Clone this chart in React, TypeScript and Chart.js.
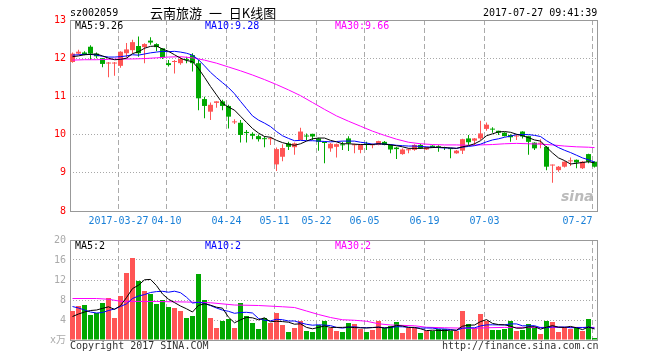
import React, { useEffect, useRef } from 'react';
import { Chart, registerables } from 'chart.js';

Chart.register(...registerables);

// ---------- data ----------
const tickIndex = [8, 16, 26, 34, 41, 49, 59, 69, 87];
const tickLabels = ['2017-03-27', '04-10', '04-24', '05-11', '05-22', '06-05', '06-19', '07-03', '07-27'];

const openPrice = [
  11.90, 12.12, 12.15, 12.30, 12.12, 12.00, 11.86, 11.86, 11.80, 12.13,
  12.21, 12.32, 12.29, 12.46, 12.37, 12.26, 11.87, 11.90, 11.87, 11.97,
  12.08, 11.87, 10.93, 10.60, 10.83, 10.87, 10.75, 10.32, 10.31, 10.07,
  10.02, 9.96, 9.90, 9.88, 9.22, 9.42, 9.77, 9.67, 9.86, 9.97,
  10.02, 9.90, 9.80, 9.64, 9.68, 9.74, 9.90, 9.72, 9.60, 9.76,
  9.72, 9.73, 9.81, 9.73, 9.66, 9.49, 9.59, 9.60, 9.73, 9.61,
  9.71, 9.69, 9.67, 9.63, 9.51, 9.58, 9.90, 9.84, 9.90, 10.15,
  10.15, 10.10, 10.05, 9.99, 9.95, 10.08, 9.96, 9.79, 9.76, 9.68,
  9.19, 9.07, 9.16, 9.30, 9.34, 9.12, 9.49, 9.29,
];
const highPrice = [
  12.15, 12.22, 12.18, 12.34, 12.15, 12.00, 11.90, 11.90, 12.18, 12.40,
  12.48, 12.57, 12.39, 12.55, 12.39, 12.26, 11.95, 11.95, 12.04, 12.04,
  12.13, 11.95, 10.99, 10.84, 10.87, 10.91, 10.78, 10.40, 10.38, 10.12,
  10.06, 10.00, 9.96, 9.94, 9.66, 9.75, 9.81, 9.79, 10.18, 10.03,
  10.02, 9.92, 9.82, 9.78, 9.77, 9.81, 9.96, 9.76, 9.75, 9.81,
  9.77, 9.84, 9.83, 9.75, 9.68, 9.64, 9.64, 9.75, 9.76, 9.68,
  9.72, 9.72, 9.68, 9.64, 9.60, 9.89, 9.99, 9.91, 10.36, 10.32,
  10.19, 10.10, 10.06, 10.01, 10.00, 10.09, 9.97, 9.80, 9.88, 9.70,
  9.22, 9.18, 9.30, 9.40, 9.35, 9.31, 9.50, 9.30,
];
const lowPrice = [
  11.88, 12.10, 12.08, 11.95, 12.00, 11.76, 11.50, 11.54, 11.75, 12.02,
  12.13, 12.04, 11.87, 12.35, 12.18, 11.98, 11.78, 11.60, 11.83, 11.87,
  11.65, 10.64, 10.43, 10.38, 10.70, 10.64, 10.16, 10.28, 9.79, 9.79,
  9.88, 9.82, 9.67, 9.73, 9.05, 9.30, 9.60, 9.47, 9.86, 9.86,
  9.86, 9.58, 9.25, 9.55, 9.40, 9.60, 9.57, 9.51, 9.51, 9.60,
  9.64, 9.72, 9.72, 9.51, 9.36, 9.47, 9.51, 9.58, 9.62, 9.60,
  9.65, 9.55, 9.60, 9.38, 9.50, 9.49, 9.73, 9.73, 9.86, 10.10,
  10.05, 9.99, 9.95, 9.81, 9.86, 9.90, 9.47, 9.60, 9.64, 9.07,
  8.74, 9.03, 9.14, 9.18, 9.12, 9.10, 9.25, 9.14,
];
const closePrice = [
  12.12, 12.17, 12.11, 12.12, 12.05, 11.85, 11.88, 11.88, 12.17, 12.23,
  12.42, 12.13, 12.37, 12.41, 12.29, 12.02, 11.82, 11.91, 11.98, 11.95,
  11.87, 10.95, 10.75, 10.78, 10.87, 10.75, 10.47, 10.34, 9.99, 10.04,
  9.97, 9.88, 9.88, 9.90, 9.62, 9.65, 9.68, 9.77, 10.08, 9.95,
  9.95, 9.81, 9.78, 9.76, 9.75, 9.72, 9.77, 9.74, 9.73, 9.74,
  9.74, 9.83, 9.73, 9.61, 9.62, 9.61, 9.61, 9.73, 9.64, 9.67,
  9.66, 9.67, 9.65, 9.62, 9.58, 9.88, 9.80, 9.90, 10.03, 10.26,
  10.13, 10.05, 9.96, 9.93, 9.97, 9.95, 9.81, 9.64, 9.78, 9.16,
  9.21, 9.16, 9.29, 9.32, 9.27, 9.29, 9.29, 9.16,
];
const volume = [
  5.8, 6.8, 7.0, 5.0, 5.4, 7.4, 8.4, 4.4, 8.8, 13.4,
  16.4, 11.8, 9.8, 9.2, 7.2, 8.0, 6.6, 6.4, 5.8, 4.4,
  4.8, 13.2, 8.0, 4.4, 2.4, 3.8, 4.2, 2.4, 7.4, 4.8,
  3.4, 2.2, 4.4, 3.4, 5.4, 3.0, 1.6, 2.4, 3.8, 1.8,
  1.6, 3.0, 3.8, 2.4, 1.8, 1.6, 3.4, 3.2, 2.2, 1.6,
  2.0, 3.8, 2.4, 2.8, 3.6, 1.4, 2.4, 2.4, 1.4, 1.8,
  1.8, 2.2, 2.2, 1.8, 1.8, 5.8, 3.2, 2.4, 5.2, 3.8,
  2.0, 2.0, 2.2, 3.8, 1.8, 2.0, 3.2, 2.6, 1.2, 3.8,
  3.6, 1.6, 2.4, 2.2, 2.4, 1.8, 4.2, 0.4,
];
const ma5 = [
  12.04, 12.06, 12.09, 12.10, 12.11, 12.06, 12.00, 11.96, 11.97, 12.00,
  12.12, 12.17, 12.26, 12.31, 12.32, 12.24, 12.18, 12.09, 12.00, 11.94,
  11.91, 11.73, 11.50, 11.26, 11.04, 10.82, 10.72, 10.64, 10.48, 10.32,
  10.16, 10.04, 9.95, 9.93, 9.85, 9.79, 9.75, 9.72, 9.76, 9.83,
  9.89, 9.91, 9.91, 9.85, 9.81, 9.76, 9.76, 9.75, 9.74, 9.74,
  9.74, 9.76, 9.75, 9.73, 9.71, 9.68, 9.64, 9.64, 9.64, 9.65,
  9.66, 9.67, 9.66, 9.65, 9.64, 9.68, 9.71, 9.76, 9.84, 9.97,
  10.02, 10.07, 10.08, 10.06, 10.01, 9.97, 9.92, 9.86, 9.83, 9.67,
  9.52, 9.39, 9.32, 9.23, 9.25, 9.27, 9.29, 9.26,
];
const ma10 = [
  12.08, 12.09, 12.10, 12.10, 12.08, 12.05, 12.03, 12.03, 12.04, 12.06,
  12.09, 12.08, 12.11, 12.14, 12.16, 12.18, 12.17, 12.18, 12.16, 12.13,
  12.08, 11.96, 11.80, 11.63, 11.49, 11.36, 11.23, 11.07, 10.87, 10.68,
  10.49, 10.38, 10.30, 10.21, 10.08, 9.97, 9.90, 9.84, 9.85, 9.84,
  9.84, 9.83, 9.82, 9.81, 9.82, 9.83, 9.83, 9.83, 9.80, 9.78,
  9.75, 9.76, 9.75, 9.74, 9.72, 9.71, 9.70, 9.70, 9.69, 9.68,
  9.67, 9.66, 9.65, 9.65, 9.64, 9.67, 9.69, 9.71, 9.75, 9.81,
  9.86, 9.89, 9.93, 9.96, 10.00, 10.00, 10.00, 9.98, 9.95, 9.84,
  9.75, 9.66, 9.59, 9.53, 9.46, 9.39, 9.34, 9.28,
];
const ma30Index = [0, 2, 4, 6, 8, 10, 12, 14, 16, 18, 20, 22, 24, 26, 28, 30, 32, 34, 36, 38, 40, 42, 44, 46, 48, 50, 52, 54, 56, 58, 60, 62, 64, 66, 68, 70, 72, 74, 76, 78, 80, 82, 84, 86, 87];
const ma30 = [
  11.95, 11.96, 11.96, 11.97, 11.98, 11.98, 11.99, 12.01, 12.03, 12.04,
  12.01, 11.95, 11.87, 11.77, 11.67, 11.56, 11.44, 11.31, 11.17, 11.02,
  10.84, 10.66, 10.49, 10.35, 10.22, 10.09, 9.98, 9.88, 9.80, 9.76,
  9.74, 9.73, 9.73, 9.72, 9.73, 9.74, 9.76, 9.77, 9.76, 9.75,
  9.73, 9.70, 9.68, 9.67, 9.66,
];
const volMa5 = [
  4.7, 5.2, 5.6, 5.9, 6.0, 6.32, 6.64, 6.12, 6.88, 8.48,
  10.28, 10.96, 12.04, 12.12, 10.88, 9.2, 8.16, 7.48, 6.8, 6.24,
  5.6, 6.92, 7.24, 6.96, 6.56, 6.36, 4.56, 3.44, 4.04, 4.52,
  4.44, 4.04, 4.44, 3.64, 3.76, 3.68, 3.56, 3.16, 3.24, 2.52,
  2.24, 2.52, 2.8, 2.52, 2.52, 2.52, 2.6, 2.48, 2.44, 2.4,
  2.48, 2.56, 2.4, 2.52, 2.92, 2.8, 2.52, 2.52, 2.24, 1.88,
  1.96, 1.92, 1.88, 1.96, 1.96, 2.76, 2.96, 3.0, 3.68, 4.08,
  3.32, 3.08, 3.04, 2.76, 2.36, 2.36, 2.6, 2.68, 2.16, 2.56,
  2.88, 2.56, 2.52, 2.72, 2.44, 2.08, 2.6, 2.2,
];
const volMa10 = [
  6.7, 6.4, 6.0, 5.6, 5.4, 5.5, 5.9, 6.2, 6.7, 7.24,
  8.3, 8.8, 9.08, 9.5, 9.68, 9.74, 9.56, 9.76, 9.46, 8.56,
  7.4, 7.54, 7.36, 6.88, 6.4, 5.98, 5.74, 5.34, 5.5, 5.54,
  5.4, 4.3, 3.94, 3.84, 4.14, 4.06, 3.8, 3.8, 3.44, 3.14,
  2.96, 3.04, 2.98, 2.88, 2.52, 2.38, 2.56, 2.64, 2.48, 2.46,
  2.5, 2.58, 2.44, 2.48, 2.66, 2.64, 2.54, 2.46, 2.38, 2.4,
  2.38, 2.22, 2.2, 2.1, 1.92, 2.36, 2.44, 2.44, 2.82, 3.02,
  3.04, 3.02, 3.02, 3.22, 3.22, 2.84, 2.84, 2.86, 2.46, 2.46,
  2.62, 2.58, 2.6, 2.44, 2.5, 2.48, 2.58, 2.36,
];
const volMa30Index = [0, 4, 6, 8, 14, 19, 23, 27, 31, 35, 37, 39, 41, 43, 45, 47, 49, 51, 53, 57, 59, 62, 67, 69, 72, 87];
const volMa30 = [8.3, 8.3, 8.15, 7.75, 7.7, 7.6, 7.45, 7.0, 6.9, 6.65, 6.5, 5.8, 5.1, 4.5, 4.05, 3.95, 3.75, 3.25, 3.0, 2.85, 2.55, 2.45, 2.33, 2.45, 2.52, 2.52];
const priceTicks = [8, 9, 10, 11, 12, 13];
const volumeTicks = [0, 4, 8, 12, 16, 20];

// ---------- styles ----------
const RED = '#ff5555';
const GREEN = '#00a800';
const MONO = "'DejaVu Sans Mono', 'Noto Sans CJK SC', monospace";
const X_MIN = -0.41667;
const X_MAX = 87.58333;

const framePlugin = {
  id: 'frame',
  beforeDatasetsDraw(chart: any) {
    const { ctx, chartArea: a } = chart;
    ctx.save();
    ctx.strokeStyle = '#999999';
    ctx.lineWidth = 1;
    ctx.setLineDash([]);
    ctx.strokeRect(a.left + 0.5, a.top + 0.5, a.right - a.left - 1, a.bottom - a.top);
    ctx.restore();
  },
};

function xScale(showLabels: boolean, height: number) {
  return {
    type: 'linear',
    min: X_MIN,
    max: X_MAX,
    offset: false,
    afterBuildTicks: (s: any) => {
      s.ticks = tickIndex.map((i) => ({ value: i - 1 / 3 }));
    },
    afterFit: (s: any) => {
      s.height = height;
      s.paddingLeft = 0;
      s.paddingRight = 0;
    },
    ticks: {
      display: showLabels,
      autoSkip: false,
      maxRotation: 0,
      padding: 4,
      color: '#1a80d8',
      font: { family: MONO, size: 10 },
      // the last label sits left of its grid line (kept inside the frame)
      callback: (_v: any, idx: number) =>
        idx === tickLabels.length - 1 ? tickLabels[idx] + '     ' : tickLabels[idx],
    },
    grid: { color: '#aaaaaa', lineWidth: 1, drawTicks: false, offset: false },
    border: { display: false, dash: [5, 3] },
  };
}

function yScale(min: number, max: number, ticks: number[], color: string, cb: (v: number) => string) {
  return {
    type: 'linear',
    min,
    max,
    offset: false,
    beginAtZero: false,
    afterBuildTicks: (s: any) => {
      s.ticks = ticks.map((v) => ({ value: v }));
    },
    afterFit: (s: any) => {
      s.width = 70;
      s.paddingTop = 0;
      s.paddingBottom = 0;
    },
    ticks: { padding: 4, color, font: { family: MONO, size: 10 }, callback: (v: any) => cb(Number(v)) },
    grid: { color: '#a8a8a8', lineWidth: 1, drawTicks: false },
    border: { display: false, dash: [1, 2] },
  };
}

function line(points: { x: number; y: number }[], color: string) {
  return {
    type: 'line',
    data: points,
    borderColor: color,
    borderWidth: 1,
    pointRadius: 0,
    tension: 0,
    fill: false,
  };
}

export default function App() {
  const mainRef = useRef<HTMLCanvasElement>(null);
  const volRef = useRef<HTMLCanvasElement>(null);

  useEffect(() => {
    const idx = closePrice.map((_, i) => i);
    const colors = idx.map((i) => (closePrice[i] >= openPrice[i] ? RED : GREEN));

    const common = {
      animation: false,
      responsive: false,
      maintainAspectRatio: false,
      devicePixelRatio: 1,
      events: [],
      plugins: { legend: { display: false }, tooltip: { enabled: false } },
    };

    const main = new Chart(mainRef.current as HTMLCanvasElement, {
      type: 'bar',
      data: {
        datasets: [
          line(ma5.map((y, i) => ({ x: i, y })), '#000000'),
          line(ma10.map((y, i) => ({ x: i, y })), '#0000ff'),
          line(ma30Index.map((x, k) => ({ x, y: ma30[k] })), '#ff00ff'),
          {
            type: 'bar',
            data: idx.map((i) => ({ x: i, y: [openPrice[i], closePrice[i]] })),
            backgroundColor: colors,
            barThickness: 5,
            minBarLength: 1,
            grouped: false,
            inflateAmount: 0,
            borderWidth: 0,
          },
          {
            type: 'bar',
            data: idx.map((i) => ({ x: i, y: [lowPrice[i], highPrice[i]] })),
            backgroundColor: colors,
            barThickness: 1,
            minBarLength: 1,
            grouped: false,
            inflateAmount: 0,
            borderWidth: 0,
          },
        ],
      } as any,
      options: {
        ...common,
        layout: { padding: { top: 20, right: 62, left: 0, bottom: 0 } },
        scales: {
          x: xScale(true, 21),
          y: yScale(8, 13, priceTicks, '#ff0000', (v) => String(v)),
        },
      } as any,
      plugins: [framePlugin],
    });

    const vol = new Chart(volRef.current as HTMLCanvasElement, {
      type: 'bar',
      data: {
        datasets: [
          line(volMa5.map((y, i) => ({ x: i, y })), '#000000'),
          line(volMa10.map((y, i) => ({ x: i, y })), '#0000ff'),
          line(volMa30Index.map((x, k) => ({ x, y: volMa30[k] })), '#ff00ff'),
          {
            type: 'bar',
            data: idx.map((i) => ({ x: i, y: volume[i] })),
            backgroundColor: colors,
            barThickness: 5,
            grouped: false,
            inflateAmount: 0,
            borderWidth: 0,
          },
        ],
      } as any,
      options: {
        ...common,
        layout: { padding: { top: 8, right: 62, left: 0, bottom: 0 } },
        scales: {
          x: xScale(false, 20),
          y: yScale(0, 20, volumeTicks, '#aaaaaa', (v) => (v === 0 ? 'x万' : String(v))),
        },
      } as any,
      plugins: [framePlugin],
    });

    return () => {
      main.destroy();
      vol.destroy();
    };
  }, []);

  const t = (left: number, top: number, color: string, extra: React.CSSProperties = {}): React.CSSProperties => ({
    position: 'absolute',
    left,
    top,
    color,
    fontFamily: MONO,
    fontSize: 10,
    lineHeight: '12px',
    whiteSpace: 'pre',
    ...extra,
  });

  return (
    <div style={{ position: 'absolute', left: 0, top: 0, width: 660, height: 360, background: '#ffffff', overflow: 'hidden' }}>
      <canvas ref={mainRef} width={660} height={232} style={{ position: 'absolute', left: 0, top: 0, width: 660, height: 232 }} />
      <canvas ref={volRef} width={660} height={128} style={{ position: 'absolute', left: 0, top: 232, width: 660, height: 128 }} />
      <span style={t(70, 7, '#000000')}>sz002059</span>
      <span style={t(150, 5, '#000000', { fontFamily: "'Noto Sans CJK SC', sans-serif", fontSize: 13, lineHeight: '16px', wordSpacing: 4 })}>云南旅游 一 日K线图</span>
      <span style={t(483, 7, '#000000')}>2017-07-27 09:41:39</span>
      <span style={t(75, 20, '#000000')}>MA5:9.26</span>
      <span style={t(205, 20, '#0000ff')}>MA10:9.28</span>
      <span style={t(335, 20, '#ff00ff')}>MA30:9.66</span>
      <span style={t(75, 240, '#000000')}>MA5:2</span>
      <span style={t(205, 240, '#0000ff')}>MA10:2</span>
      <span style={t(335, 240, '#ff00ff')}>MA30:2</span>
      <span style={t(70, 340, '#333333')}>Copyright 2017 SINA.COM</span>
      <span style={t(442, 340, '#333333')}>http://finance.sina.com.cn</span>
      <span style={t(561, 188, '#bbbbbb', { fontFamily: "'DejaVu Sans', sans-serif", fontSize: 14, fontStyle: 'italic', fontWeight: 'bold', lineHeight: '16px' })}>sina</span>
    </div>
  );
}
